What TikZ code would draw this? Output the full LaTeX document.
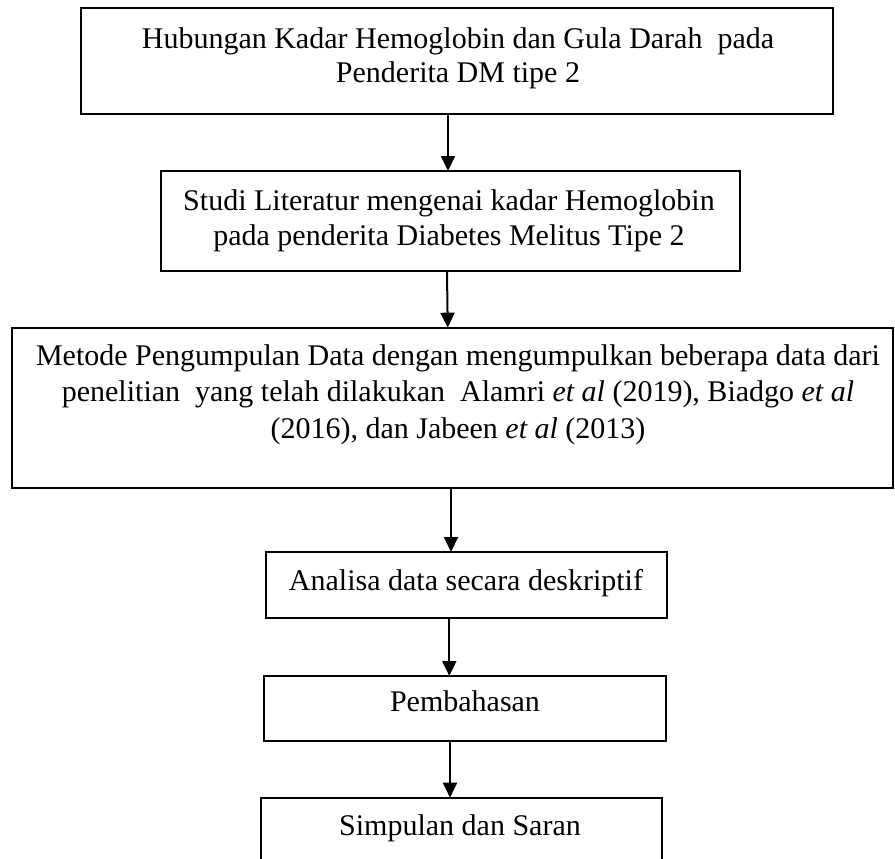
\documentclass[tikz,border=0pt]{standalone}
\usepackage{fontspec}
\setmainfont{Liberation Serif}
\usetikzlibrary{arrows.meta}
\tikzset{
  box/.style={draw, line width=2pt, rectangle, inner sep=0pt, outer sep=0pt, anchor=center},
  txt/.style={inner sep=0pt, outer sep=0pt, align=center, anchor=base, font=\fontsize{30}{35}\selectfont},
  txtw/.style={txt, font=\fontsize{30}{36.5}\selectfont},
  arr/.style={line width=2pt, -{Triangle[length=15pt,width=14pt]}}
}
\begin{document}
\begin{tikzpicture}[x=1pt,y=-1pt]
\useasboundingbox (0,0) rectangle (895,859);
\clip (0,0) rectangle (895,859);
% boxes
\node[box, minimum width=752pt, minimum height=106pt] (b1) at (457,61) {};
\node[box, minimum width=579pt, minimum height=100pt] (b2) at (450.5,221) {};
\node[box, minimum width=881pt, minimum height=160pt] (b3) at (452.3,407.7) {};
\node[box, minimum width=401pt, minimum height=66pt] (b4) at (466.3,585) {};
\node[box, minimum width=402pt, minimum height=65pt] (b5) at (465,708.5) {};
\node[box, minimum width=401pt, minimum height=80pt] (b6) at (461.2,837.7) {};
% texts (anchor=base = baseline of the last line)
\node[txt] (t1) at (458,83) {Hubungan Kadar Hemoglobin dan Gula Darah\ \ pada\\Penderita DM tipe 2};
\node[txt] (t2) at (449,245) {Studi Literatur mengenai kadar Hemoglobin\\pada penderita Diabetes Melitus Tipe 2};
\node[txtw] (t3) at (458,438) {Metode Pengumpulan Data dengan mengumpulkan beberapa data dari\\penelitian\ \ yang telah dilakukan\ \ Alamri \textit{et al} (2019), Biadgo \textit{et al}\\(2016), dan Jabeen \textit{et al} (2013)};
\node[txt] (t4) at (466,590) {Analisa data secara deskriptif};
\node[txt] (t5) at (465,711.7) {Pembahasan};
\node[txt] (t6) at (460,835) {Simpulan dan Saran};
% connectors
\draw[arr] ([xshift=-9pt]b1.south) -- ([xshift=-2.5pt]b2.north);
\draw[arr] ([xshift=-3.5pt]b2.south) -- ([xshift=-4.6pt]b3.north);
\draw[arr] ([xshift=-1.3pt]b3.south) -- ([xshift=-15.3pt]b4.north);
\draw[arr] ([xshift=-17pt]b4.south) -- ([xshift=-15.7pt]b5.north);
\draw[arr] ([xshift=-15pt]b5.south) -- ([xshift=-11.2pt]b6.north);
\end{tikzpicture}
\end{document}
